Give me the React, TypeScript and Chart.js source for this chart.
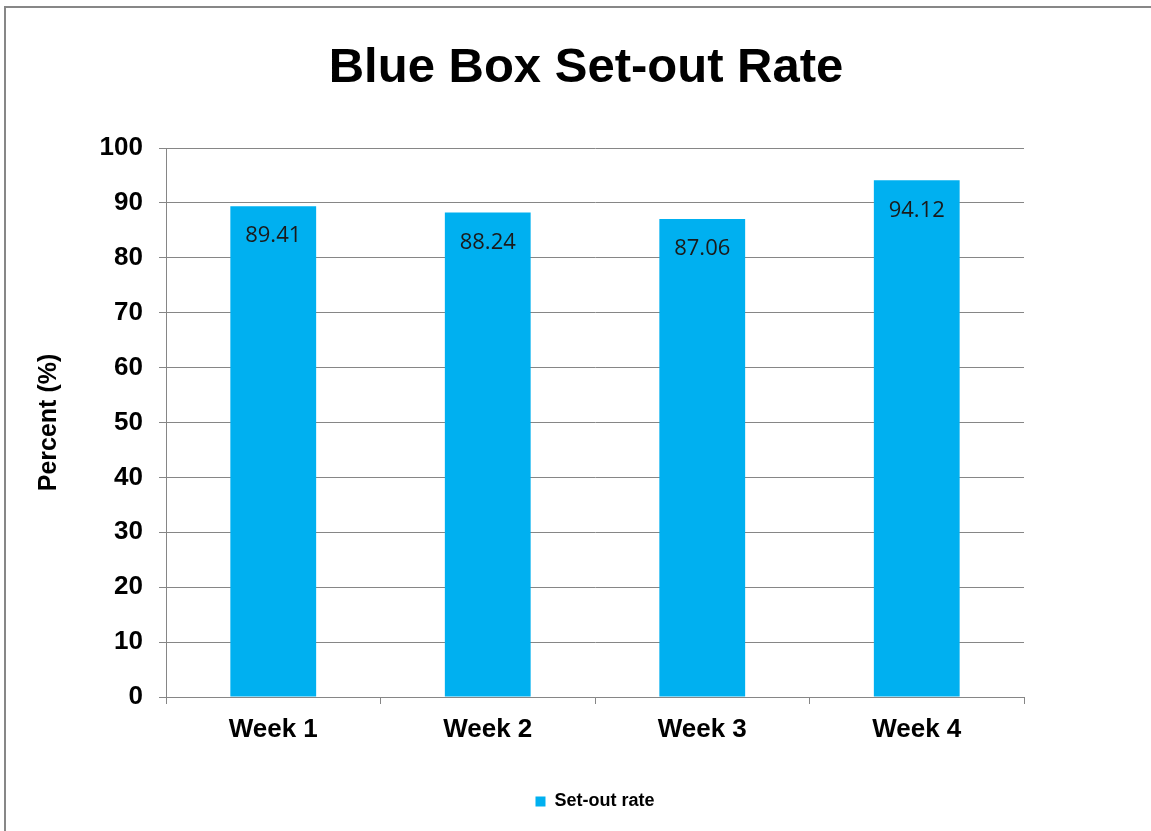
import React, { useEffect, useRef } from "react";
import { Chart, registerables } from "chart.js";

Chart.register(...registerables);

const categories = ["Week 1", "Week 2", "Week 3", "Week 4"];
const setOutRate = [89.41, 88.24, 87.06, 94.12];
const seriesLabel = "Set-out rate";
const chartTitle = "Blue Box Set-out Rate";
const yAxisTitle = "Percent (%)";
const yMin = 0;
const yMax = 100;
const yStep = 10;

const FONT = "'Liberation Sans', Arial, sans-serif";
const GRID = "#868686";
const BAR = "#00B0F0";

const dataLabels = {
  id: "dataLabels",
  afterDatasetsDraw(chart: any) {
    const ctx = chart.ctx;
    const meta = chart.getDatasetMeta(0);
    ctx.save();
    ctx.font = "22px 'Open Sans', 'Noto Sans', sans-serif";
    ctx.fillStyle = "#1a1a1a";
    ctx.textAlign = "center";
    ctx.textBaseline = "middle";
    meta.data.forEach((bar: any, i: number) => {
      const v = chart.data.datasets[0].data[i];
      ctx.fillText(Number(v).toFixed(2), bar.x, bar.y + 30);
    });
    ctx.restore();
  },
};

export default function App() {
  const ref = useRef<HTMLCanvasElement | null>(null);
  useEffect(() => {
    if (!ref.current) return;
    const chart = new Chart(ref.current, {
      type: "bar",
      data: {
        labels: categories,
        datasets: [
          {
            label: seriesLabel,
            data: setOutRate,
            backgroundColor: BAR,
            borderWidth: 0,
            barPercentage: 1,
            categoryPercentage: 0.4,
          },
        ],
      },
      options: {
        animation: false,
        responsive: false,
        devicePixelRatio: 1,
        layout: { padding: { left: 31, right: 10, top: 10, bottom: 10.5 } },
        plugins: {
          title: {
            display: true,
            text: chartTitle,
            color: "#000",
            font: { family: FONT, size: 49, weight: "bold", lineHeight: 1.2 },
            padding: { top: 29, bottom: 50.2 },
          },
          legend: {
            display: true,
            position: "bottom",
            fullSize: false,
            labels: {
              color: "#000",
              font: { family: FONT, size: 18, weight: "bold" },
              boxWidth: 10,
              boxHeight: 10,
              padding: 10,
            },
          },
          tooltip: { enabled: false },
        },
        scales: {
          x: {
            grid: {
              display: true,
              drawOnChartArea: false,
              drawTicks: true,
              tickLength: 7,
              color: GRID,
              offset: true,
            },
            border: { display: true, color: GRID, width: 1 },
            ticks: {
              color: "#000",
              font: { family: FONT, size: 26, weight: "bold" },
              padding: 10,
              maxRotation: 0,
            },
            afterFit(scale: any) {
              scale.height = 85.5;
            },
          },
          y: {
            min: yMin,
            max: yMax,
            grid: {
              display: true,
              drawTicks: true,
              tickLength: 7,
              color: GRID,
            },
            border: { display: true, color: GRID, width: 1 },
            ticks: {
              stepSize: yStep,
              color: "#000",
              font: { family: FONT, size: 26, weight: "bold" },
              padding: 16,
            },
            title: {
              display: true,
              text: yAxisTitle,
              color: "#000",
              font: { family: FONT, size: 25, weight: "bold", lineHeight: 1.2 },
              padding: { top: 3, bottom: 0 },
            },
            afterFit(scale: any) {
              scale.width = 135;
            },
          },
          yRight: {
            type: "linear",
            position: "right",
            display: true,
            grid: { display: false, drawTicks: false },
            border: { display: false },
            ticks: { display: false },
            afterFit(scale: any) {
              scale.width = 117;
            },
          },
        },
      },
      plugins: [dataLabels],
    } as any);
    return () => chart.destroy();
  }, []);

  return (
    <div style={{ position: "fixed", left: 0, top: 0, width: 1151, height: 831, background: "#fff", overflow: "hidden" }}>
      <div
        style={{
          position: "absolute",
          left: 4,
          top: 6,
          width: 1300,
          height: 1000,
          border: "2px solid #878787",
          boxSizing: "border-box",
        }}
      />
      <canvas ref={ref} width={1151} height={831} style={{ position: "absolute", left: 0, top: 0, width: 1151, height: 831 }} />
    </div>
  );
}
